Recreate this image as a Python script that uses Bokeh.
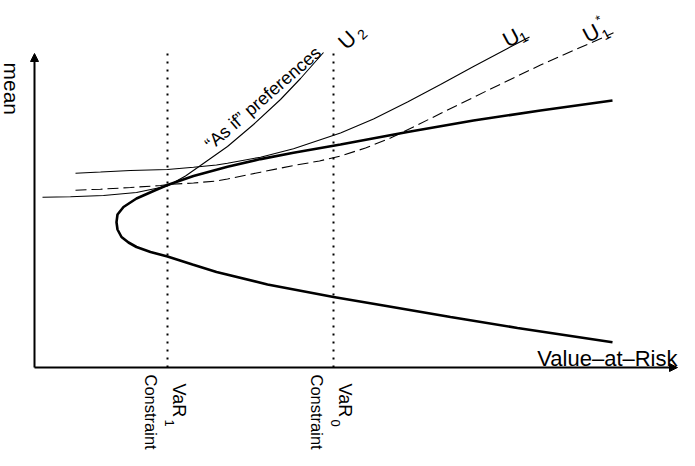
import math
from bokeh.plotting import figure
from bokeh.models import Range1d, Arrow, NormalHead
from bokeh.embed import file_html
from bokeh.resources import INLINE
from bokeh.core.properties import value

# ---- data (VaR on x, mean on y; origin at the axes' crossing) ----
frontier_var = [578, 506, 439, 373, 306, 259, 226, 193, 182, 159, 133, 119, 102, 89, 83, 82,
                83, 87, 94, 102, 116, 133, 158, 182, 233, 299, 349, 416, 483, 578]
frontier_mean = [267, 257, 247, 235.5, 223, 214.7, 208.4, 200.7, 197.8, 191.4, 182.5, 176.5, 169, 160.5, 153, 145.3,
                 138, 130.5, 125, 120.5, 115.5, 111, 103, 95.5, 83, 70.5, 62, 50.5, 39.5, 25.3]

u1_var = [41, 66, 96, 133, 159, 182, 193, 226, 259, 306, 339, 373, 406, 439, 473, 495]
u1_mean = [194.3, 195.5, 197, 198, 200.3, 202.5, 204.3, 210.3, 218.7, 234.5, 248.5, 265.5, 283, 301, 319, 330.5]

u1s_var = [41, 66, 96, 126, 133, 159, 182, 193, 226, 259, 285, 306, 331, 356, 381, 406, 456, 506, 556, 579]
u1s_mean = [177.3, 178.3, 180, 182, 183, 184.5, 186.5, 188.5, 195.3, 202, 206.5, 211.5, 219.5, 229.5, 241.5,
            254, 278.5, 302.5, 324.5, 334.7]

u2_var = [8, 36, 69, 102, 133, 151, 166, 193, 219, 246, 266, 289]
u2_mean = [170.3, 170.7, 172, 175, 181.5, 191.5, 202, 221, 243, 268, 289, 315]

constraint_var = [133, 299]        # VaR_1, VaR_0
constraint_top = 315
constraint_names = ["1", "0"]

FONT = "Liberation Sans"

p = figure(width=679, height=450, x_range=Range1d(-34, 645), y_range=Range1d(-83, 367),
           output_backend="svg", toolbar_location=None, min_border=0,
           x_axis_location=None, y_axis_location=None)
p.grid.visible = False
p.outline_line_color = None
p.background_fill_color = "white"
p.border_fill_color = "white"

# axes with arrows
p.add_layout(Arrow(end=NormalHead(size=8, fill_color="black", line_color="black", line_width=1),
                   x_start=0, y_start=0, x_end=0, y_end=314, line_width=2, line_color="black"))
p.add_layout(Arrow(end=NormalHead(size=8, fill_color="black", line_color="black", line_width=1),
                   x_start=0, y_start=0, x_end=643, y_end=0, line_width=2, line_color="black"))

# constraint dotted lines
for cv in constraint_var:
    p.line([cv, cv], [0, constraint_top], line_color="black", line_width=2, line_dash="2 6")

# curves
p.line(u2_var, u2_mean, line_color="black", line_width=1.1)
p.line(u1_var, u1_mean, line_color="black", line_width=1.1)
p.line(u1s_var, u1s_mean, line_color="black", line_width=1.1, line_dash="11 5")
p.line(frontier_var, frontier_mean, line_color="black", line_width=2.6)


def txt(x, y, s, size, angle=0.0, align="left"):
    p.text(x=[x], y=[y], text=[s], angle=angle, text_font=value(FONT),
           text_font_size=f"{size}px", text_color="black",
           text_align=align, text_baseline="alphabetic")


def ctxt(cx, cy, s, size, angle, half_w, half_h):
    """place left/alphabetic text so that its ink centre falls on (cx, cy)"""
    dx, dy = math.cos(angle), math.sin(angle)
    ux, uy = -math.sin(angle), math.cos(angle)
    txt(cx - dx * half_w - ux * half_h, cy - dy * half_w - uy * half_h, s, size, angle)


# axis titles
txt(643, 9, "Value\u2013at\u2013Risk", 22, align="right")
txt(-23.5, 305, "mean", 21, angle=-math.pi / 2)

# constraint labels (rotated, reading downward)
for cv, nm in zip(constraint_var, constraint_names):
    txt(cv - 17, -7, "Constraint", 16.5, angle=-math.pi / 2)
    txt(cv + 11.5, -16, "VaR", 18, angle=-math.pi / 2)
    txt(cv + 1.5, -52, nm, 13, angle=-math.pi / 2)

# curve labels
a2 = math.radians(43)
ctxt(307.7, 333, "U", 21.5, a2, 8, 7.8)
ctxt(324.3, 337, "2", 14, a2, 3.9, 5)
a1 = math.radians(28)
ctxt(473.3, 336.3, "U", 21.5, a1, 8, 7.8)
ctxt(486.7, 334.7, "1", 14, a1, 3.9, 5)
ctxt(553.3, 341, "U", 21.5, a1, 8, 7.8)
ctxt(569.3, 337.7, "1", 14, a1, 3.9, 5)
ctxt(560.5, 354.5, "*", 13, a1, 2.5, 7.5)

txt(173, 221, "\u201cAs if\u201d preferences", 18, angle=math.radians(41))

open("out.html", "w").write(file_html(p, INLINE))
